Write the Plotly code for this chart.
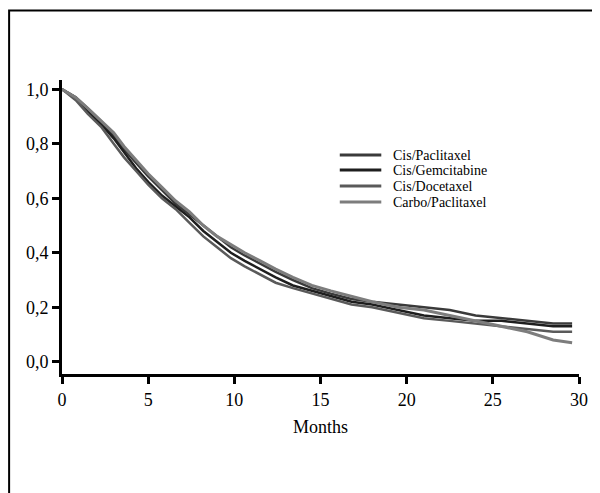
import plotly.graph_objects as go

# ---- data ----
months = [0, 0.8, 1.5, 2.3, 3.0, 3.6, 4.3, 5.0, 5.8, 6.6, 7.4, 8.2, 9.0, 9.8, 10.6,
          11.5, 12.4, 13.4, 14.5, 15.6, 16.8, 18.0, 19.5, 21.0, 22.5, 24.0, 25.5,
          27.0, 28.5, 29.6]
series_names = ["Cis/Paclitaxel", "Cis/Gemcitabine", "Cis/Docetaxel", "Carbo/Paclitaxel"]
cis_paclitaxel = [1, 0.97, 0.93, 0.88, 0.83, 0.78, 0.73, 0.68, 0.63, 0.58, 0.54, 0.50,
                  0.46, 0.42, 0.39, 0.36, 0.33, 0.30, 0.27, 0.25, 0.23, 0.22, 0.21,
                  0.20, 0.19, 0.17, 0.16, 0.15, 0.14, 0.14]
cis_gemcitabine = [1, 0.97, 0.92, 0.87, 0.82, 0.77, 0.71, 0.66, 0.61, 0.57, 0.53, 0.48,
                   0.44, 0.40, 0.37, 0.34, 0.31, 0.28, 0.26, 0.24, 0.22, 0.21, 0.19,
                   0.17, 0.16, 0.15, 0.15, 0.14, 0.13, 0.13]
cis_docetaxel = [1, 0.96, 0.91, 0.86, 0.80, 0.75, 0.70, 0.65, 0.60, 0.56, 0.51, 0.46,
                 0.42, 0.38, 0.35, 0.32, 0.29, 0.27, 0.25, 0.23, 0.21, 0.20, 0.18,
                 0.16, 0.15, 0.14, 0.13, 0.12, 0.11, 0.11]
carbo_paclitaxel = [1, 0.97, 0.93, 0.88, 0.84, 0.79, 0.74, 0.69, 0.64, 0.59, 0.55, 0.50,
                    0.46, 0.43, 0.40, 0.37, 0.34, 0.31, 0.28, 0.26, 0.24, 0.22, 0.20,
                    0.19, 0.17, 0.15, 0.13, 0.11, 0.08, 0.07]
x_ticks = [0, 5, 10, 15, 20, 25, 30]
y_ticks = [0.0, 0.2, 0.4, 0.6, 0.8, 1.0]
y_tick_labels = ["0,0", "0,2", "0,4", "0,6", "0,8", "1,0"]

all_series = [cis_paclitaxel, cis_gemcitabine, cis_docetaxel, carbo_paclitaxel]
colors = ["#3a3a3a", "#1e1e1e", "#5a5a5a", "#7d7d7d"]
widths = [2.5, 2.5, 2.5, 3]

FONT = "Liberation Serif, Times New Roman, serif"

# figure sits at an 8px body margin inside the 600x493 window
W, H = 592, 485
L, R, T, B = 54, 15, 72, 119
PW, PH = W - L - R, H - T - B


def px(fx):
    return (fx - L) / PW


def py(fy):
    return (H - B - fy) / PH


fig = go.Figure()
for name, vals, c, w in zip(series_names, all_series, colors, widths):
    fig.add_trace(go.Scatter(x=months, y=vals, mode="lines", name=name,
                             line=dict(color=c, width=w, shape="linear"),
                             showlegend=False))

# outer frame around the picture
fig.add_shape(type="rect", xref="paper", yref="paper",
              x0=px(0.5), x1=px(W + 20), y0=py(H + 20), y1=py(2.5),
              line=dict(color="black", width=2), layer="below")

# legend (drawn as key lines + labels)
legend_rows = [147, 162, 178, 194]
for name, c, fy in zip(series_names, colors, legend_rows):
    fig.add_shape(type="line", xref="paper", yref="paper",
                  x0=px(335), x1=px(377), y0=py(fy), y1=py(fy),
                  line=dict(color=c, width=3))
    fig.add_annotation(xref="paper", yref="paper", x=px(387), y=py(fy),
                       xanchor="left", yanchor="middle", showarrow=False,
                       text=name, font=dict(family=FONT, size=14, color="black"))

fig.update_layout(
    width=W, height=H,
    margin=dict(l=L, r=R, t=T, b=B),
    paper_bgcolor="white", plot_bgcolor="white",
    font=dict(family=FONT, size=18, color="black"),
    showlegend=False,
    xaxis=dict(range=[0, 30], tickvals=x_ticks, showgrid=False, zeroline=False,
               showline=True, linecolor="black", linewidth=3,
               ticks="outside", ticklen=7, tickwidth=3, tickcolor="black",
               title=dict(text="Months", font=dict(family=FONT, size=18), standoff=12),
               tickfont=dict(family=FONT, size=18)),
    yaxis=dict(range=[-0.045, 1.034], tickvals=y_ticks, ticktext=y_tick_labels,
               showgrid=False, zeroline=False,
               showline=True, linecolor="black", linewidth=3,
               ticks="outside", ticklen=7, tickwidth=3, tickcolor="black",
               tickfont=dict(family=FONT, size=18)),
)

fig.write_html("out.html")
